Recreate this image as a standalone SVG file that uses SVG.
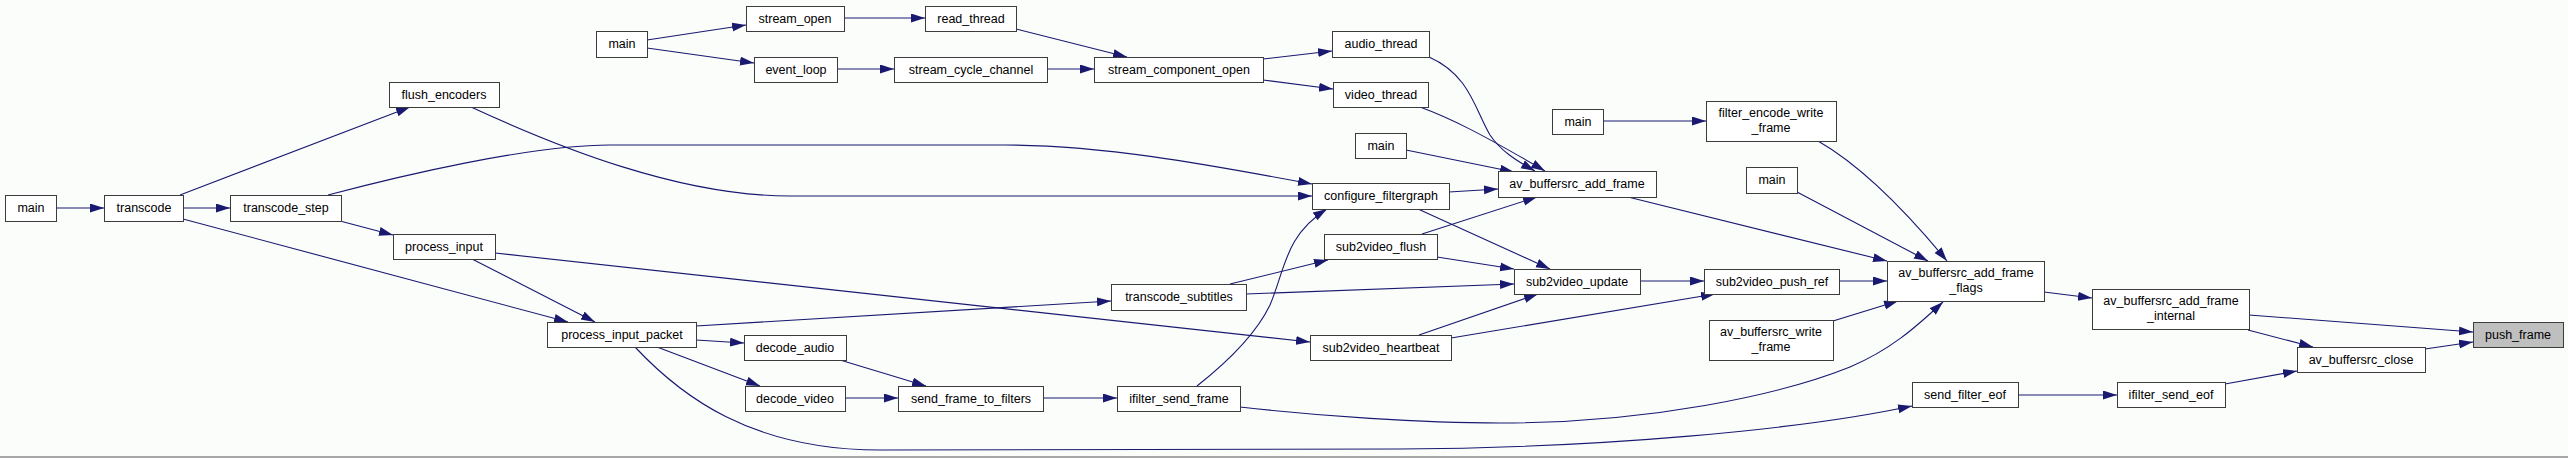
<svg xmlns="http://www.w3.org/2000/svg" width="2568" height="458" viewBox="0 0 2568 458">
<style>
.n rect{fill:#ffffff;stroke:#3c3c3c;stroke-width:1}
.n.hl rect{fill:#bfbfbf}
.n text{font-family:"Liberation Sans",Arial,sans-serif;font-size:12.5px;fill:#000;text-anchor:middle}
#edges path{fill:none;stroke:#191970;stroke-width:1.1;marker-end:url(#ah)}
</style>
<defs>
<marker id="ah" markerUnits="userSpaceOnUse" markerWidth="15" markerHeight="10" refX="14" refY="4.5" orient="auto">
<path d="M0,0 L14,4.5 L0,9 z" fill="#191970"/>
</marker>
</defs>
<rect x="0" y="0" width="2568" height="458" fill="#fbfdfb"/>
<line x1="0" y1="457" x2="2568" y2="457" stroke="#8a8a8a" stroke-width="1.5"/>
<g id="edges">
<path d="M56,208 L104,208"/>
<path d="M183,208 L230,208"/>
<path d="M180,195 L410,107"/>
<path d="M183,219 L568,322"/>
<path d="M340,221 L393,235"/>
<path d="M328,195 C400,176 530,145 610,145 L1005,145 C1100,145 1200,163 1312,184"/>
<path d="M471,107 C560,148 680,196 790,196 L1312,196"/>
<path d="M472,259 L595,322"/>
<path d="M495,253 L1310,342"/>
<path d="M696,326 L1111,301"/>
<path d="M696,340 L744,343"/>
<path d="M657,347 L760,386"/>
<path d="M635,347 C680,395 750,450 880,450 L1400,449 C1600,448 1800,430 1912,406"/>
<path d="M840,360 L926,386"/>
<path d="M845,398 L898,398"/>
<path d="M1043,398 L1117,398"/>
<path d="M1197,386 C1235,356 1258,330 1270,305 C1285,270 1285,235 1327,209"/>
<path d="M1240,407 C1320,416 1420,423 1500,423 C1650,423 1780,395 1850,367 C1890,350 1915,328 1943,302"/>
<path d="M844,18 L925,18"/>
<path d="M647,40 L746,25"/>
<path d="M647,48 L754,63"/>
<path d="M837,69 L894,69"/>
<path d="M1047,69 L1094,69"/>
<path d="M1016,29 L1127,57"/>
<path d="M1263,59 L1332,51"/>
<path d="M1263,80 L1333,89"/>
<path d="M1429,57 C1470,75 1475,110 1490,135 C1500,150 1515,160 1535,171"/>
<path d="M1420,107 C1450,118 1480,133 1545,171"/>
<path d="M1406,150 L1514,172"/>
<path d="M1449,192 L1498,189"/>
<path d="M1418,209 L1550,269"/>
<path d="M1422,234 L1537,197"/>
<path d="M1437,257 L1514,269"/>
<path d="M1230,284 L1328,260"/>
<path d="M1246,294 L1514,284"/>
<path d="M1419,335 L1538,294"/>
<path d="M1451,338 L1715,294"/>
<path d="M1640,281 L1704,281"/>
<path d="M1839,281 L1887,281"/>
<path d="M1628,197 L1887,261"/>
<path d="M1603,121 L1706,121"/>
<path d="M1818,141 C1860,165 1905,210 1947,261"/>
<path d="M1797,192 L1928,261"/>
<path d="M1833,321 L1898,301"/>
<path d="M2044,292 L2092,298"/>
<path d="M2249,315 L2473,332"/>
<path d="M2248,330 L2313,347"/>
<path d="M2425,349 L2473,342"/>
<path d="M2225,384 L2297,371"/>
<path d="M2018,395 L2117,395"/>
</g>
<g id="n_main1" class="n"><rect x="5.5" y="195.5" width="51" height="26"/><text x="31" y="212">main</text></g>
<g id="n_transcode" class="n"><rect x="104.5" y="195.5" width="79" height="26"/><text x="144" y="212">transcode</text></g>
<g id="n_transcode_step" class="n"><rect x="230.5" y="195.5" width="111" height="26"/><text x="286" y="212">transcode_step</text></g>
<g id="n_flush_encoders" class="n"><rect x="389.5" y="82.5" width="110" height="25"/><text x="444" y="99">flush_encoders</text></g>
<g id="n_process_input" class="n"><rect x="393.5" y="234.5" width="102" height="25"/><text x="444" y="251">process_input</text></g>
<g id="n_main2" class="n"><rect x="596.5" y="31.5" width="51" height="26"/><text x="622" y="48">main</text></g>
<g id="n_stream_open" class="n"><rect x="746.5" y="6.5" width="98" height="25"/><text x="795" y="23">stream_open</text></g>
<g id="n_event_loop" class="n"><rect x="754.5" y="57.5" width="83" height="25"/><text x="796" y="74">event_loop</text></g>
<g id="n_process_input_packet" class="n"><rect x="547.5" y="322.5" width="149" height="25"/><text x="622" y="339">process_input_packet</text></g>
<g id="n_decode_audio" class="n"><rect x="744.5" y="335.5" width="102" height="25"/><text x="795" y="352">decode_audio</text></g>
<g id="n_decode_video" class="n"><rect x="745.5" y="386.5" width="100" height="25"/><text x="795" y="403">decode_video</text></g>
<g id="n_read_thread" class="n"><rect x="925.5" y="6.5" width="91" height="25"/><text x="971" y="23">read_thread</text></g>
<g id="n_stream_cycle_channel" class="n"><rect x="894.5" y="57.5" width="153" height="25"/><text x="971" y="74">stream_cycle_channel</text></g>
<g id="n_stream_component_open" class="n"><rect x="1094.5" y="57.5" width="169" height="25"/><text x="1179" y="74">stream_component_open</text></g>
<g id="n_transcode_subtitles" class="n"><rect x="1111.5" y="284.5" width="135" height="26"/><text x="1179" y="301">transcode_subtitles</text></g>
<g id="n_send_frame_to_filters" class="n"><rect x="898.5" y="386.5" width="145" height="25"/><text x="971" y="403">send_frame_to_filters</text></g>
<g id="n_ifilter_send_frame" class="n"><rect x="1117.5" y="386.5" width="123" height="25"/><text x="1179" y="403">ifilter_send_frame</text></g>
<g id="n_audio_thread" class="n"><rect x="1332.5" y="31.5" width="97" height="26"/><text x="1381" y="48">audio_thread</text></g>
<g id="n_video_thread" class="n"><rect x="1333.5" y="82.5" width="95" height="25"/><text x="1381" y="99">video_thread</text></g>
<g id="n_main3" class="n"><rect x="1355.5" y="133.5" width="51" height="25"/><text x="1381" y="150">main</text></g>
<g id="n_configure_filtergraph" class="n"><rect x="1312.5" y="183.5" width="137" height="26"/><text x="1381" y="200">configure_filtergraph</text></g>
<g id="n_av_buffersrc_add_frame" class="n"><rect x="1498.5" y="171.5" width="158" height="26"/><text x="1577" y="188">av_buffersrc_add_frame</text></g>
<g id="n_sub2video_flush" class="n"><rect x="1324.5" y="234.5" width="113" height="25"/><text x="1381" y="251">sub2video_flush</text></g>
<g id="n_sub2video_update" class="n"><rect x="1514.5" y="269.5" width="126" height="25"/><text x="1577" y="286">sub2video_update</text></g>
<g id="n_sub2video_heartbeat" class="n"><rect x="1310.5" y="335.5" width="141" height="25"/><text x="1381" y="352">sub2video_heartbeat</text></g>
<g id="n_main4" class="n"><rect x="1552.5" y="109.5" width="51" height="25"/><text x="1578" y="126">main</text></g>
<g id="n_filter_encode_write_frame" class="n"><rect x="1706.5" y="101.5" width="130" height="40"/><text x="1771" y="117">filter_encode_write</text><text x="1771" y="132">_frame</text></g>
<g id="n_main5" class="n"><rect x="1746.5" y="167.5" width="51" height="26"/><text x="1772" y="184">main</text></g>
<g id="n_sub2video_push_ref" class="n"><rect x="1704.5" y="269.5" width="135" height="25"/><text x="1772" y="286">sub2video_push_ref</text></g>
<g id="n_av_buffersrc_add_frame_flags" class="n"><rect x="1887.5" y="261.5" width="157" height="40"/><text x="1966" y="277">av_buffersrc_add_frame</text><text x="1966" y="292">_flags</text></g>
<g id="n_av_buffersrc_write_frame" class="n"><rect x="1709.5" y="320.5" width="124" height="40"/><text x="1771" y="336">av_buffersrc_write</text><text x="1771" y="351">_frame</text></g>
<g id="n_send_filter_eof" class="n"><rect x="1912.5" y="382.5" width="106" height="25"/><text x="1965" y="399">send_filter_eof</text></g>
<g id="n_av_buffersrc_add_frame_internal" class="n"><rect x="2092.5" y="289.5" width="157" height="40"/><text x="2171" y="305">av_buffersrc_add_frame</text><text x="2171" y="320">_internal</text></g>
<g id="n_ifilter_send_eof" class="n"><rect x="2117.5" y="382.5" width="108" height="25"/><text x="2171" y="399">ifilter_send_eof</text></g>
<g id="n_av_buffersrc_close" class="n"><rect x="2297.5" y="347.5" width="128" height="25"/><text x="2361" y="364">av_buffersrc_close</text></g>
<g id="n_push_frame" class="n hl"><rect x="2473.5" y="322.5" width="90" height="25"/><text x="2518" y="339">push_frame</text></g>
</svg>
